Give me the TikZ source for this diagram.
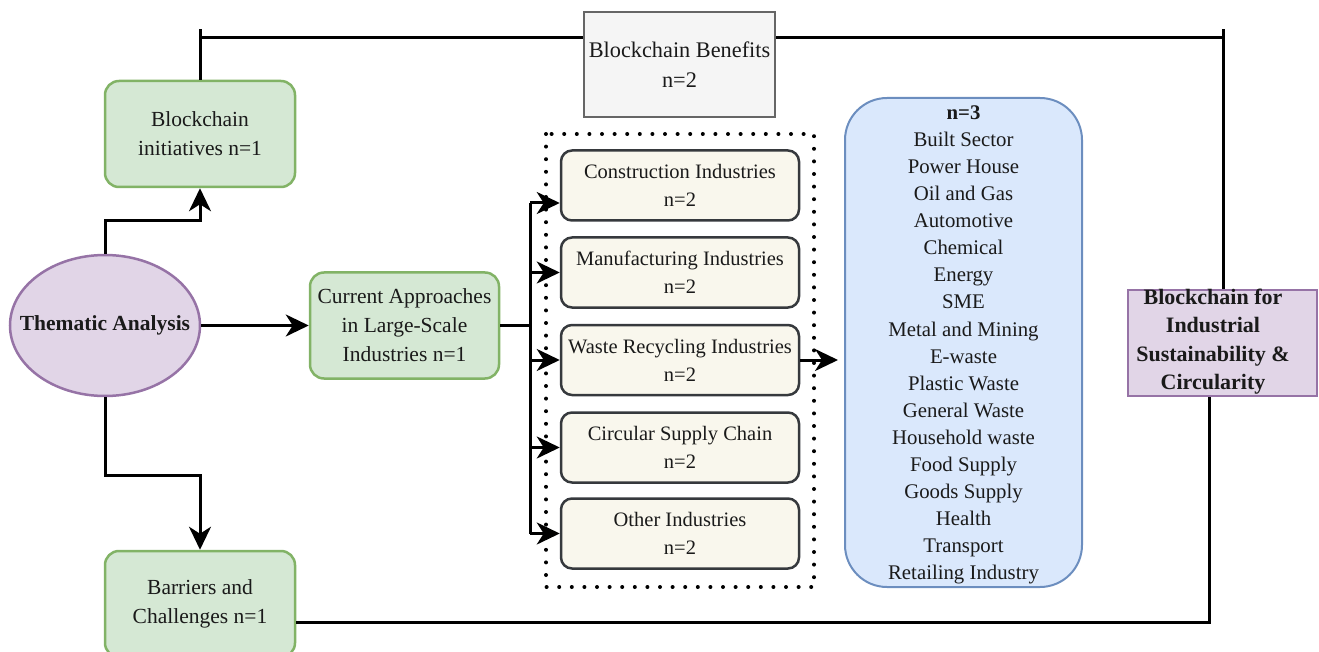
\documentclass[tikz,border=0pt]{standalone}
\usepackage{fontspec}
\setmainfont{Liberation Serif}
\usetikzlibrary{arrows.meta,shapes.geometric,calc}

\definecolor{txt}{HTML}{1A1A1A}
\definecolor{greenfill}{HTML}{D5E8D4}
\definecolor{greenline}{HTML}{82B366}
\definecolor{purplefill}{HTML}{E1D5E7}
\definecolor{purpleline}{HTML}{9673A6}
\definecolor{bluefill}{HTML}{DAE8FC}
\definecolor{blueline}{HTML}{6C8EBF}
\definecolor{cremefill}{HTML}{F9F7ED}
\definecolor{cremeline}{HTML}{36393D}
\definecolor{greyfill}{HTML}{F5F5F5}
\definecolor{greyline}{HTML}{666666}

\tikzset{
  every node/.style={text=txt, align=center, inner sep=0pt,
    font=\fontsize{21.5}{29}\selectfont},
  greenbox/.style={draw=greenline, fill=greenfill, line width=2.5pt,
    rounded corners=14pt, minimum width=190pt, minimum height=106pt},
  indbox/.style={draw=cremeline, fill=cremefill, line width=2.5pt,
    rounded corners=11pt, minimum width=238pt, minimum height=70pt,
    font=\fontsize{20.5}{28}\selectfont},
  listbox/.style={draw=blueline, fill=bluefill, line width=2pt,
    rounded corners=42pt, minimum width=237pt, minimum height=489pt},
  benefitbox/.style={draw=greyline, fill=greyfill, line width=2.5pt,
    minimum width=191pt, minimum height=105pt,
    font=\fontsize{22.3}{30}\selectfont},
  goalbox/.style={draw=purpleline, fill=purplefill, line width=2.5pt,
    minimum width=189pt, minimum height=106pt},
  themebox/.style={ellipse, draw=purpleline, fill=purplefill, line width=2.5pt,
    minimum width=190pt, minimum height=141pt},
  conn/.style={draw=black, line width=3pt},
  arrow/.style={conn, -{Stealth[length=23pt,width=22pt,inset=7pt]}},
  groupframe/.style={draw=black, line width=4pt, line cap=round,
    dash pattern=on 0pt off 12.6pt}
}

\begin{document}
\begin{tikzpicture}[x=1pt,y=-1pt]
\useasboundingbox (0,0) rectangle (1319,652);

% nodes
\node[themebox] (ta) at (105,325.5) {};
\node[font=\fontsize{21.5}{29}\selectfont\bfseries] (tat) at (ta) {Thematic Analysis};
\node[greenbox] (bi) at (200,134) {Blockchain\\initiatives n=1};
\node[greenbox] (bc) at (200,604) {Barriers and\\Challenges n=1};
\node[greenbox, minimum width=189pt] (ca) at (404.5,325.5)
  {Current Approaches\\in Large-Scale\\Industries n=1};

% grouped industry boxes
\draw[groupframe] (546,134) rectangle (814,587);
\node[indbox] (con) at (680,185.5) {Construction Industries\\n=2};
\node[indbox] (man) at (680,272.5) {Manufacturing Industries\\n=2};
\node[indbox] (was) at (680,360) {Waste Recycling Industries\\n=2};
\node[indbox] (cir) at (680,447.5) {Circular Supply Chain\\n=2};
\node[indbox] (oth) at (680,533.5) {Other Industries\\n=2};

\node[listbox] (lst) at (963.5,342.5) {};
\node[font=\fontsize{20.8}{27.1}\selectfont] (lstt) at (963.5,345)
  {\bfseries n=3\\Built Sector\\Power House\\Oil and Gas\\Automotive\\Chemical\\Energy\\SME\\Metal and Mining\\E-waste\\Plastic Waste\\General Waste\\Household waste\\Food Supply\\Goods Supply\\Health\\Transport\\Retailing Industry};

\node[goalbox] (bsc) at (1222.5,343) {};
\node[font=\fontsize{22}{28.3}\selectfont\bfseries] (bsct) at (1213,341.5)
  {Blockchain for\\Industrial\\Sustainability \&\\Circularity};

% top feedback line through the benefits box
\coordinate (tl) at (200,38);
\coordinate (tr) at (1223,38);
\draw[conn] (bi.north) -- ++(0,-51);
\draw[conn] (tl) -- (tr);
\draw[conn] (bsc.north -| tr) -- ++(0,-260);
\node[benefitbox] (bb) at (679.5,64.5) {Blockchain Benefits\\n=2};

% bottom line from barriers to the goal
\coordinate (br) at (1209,622);
\draw[conn] (bc.east |- br) -- (br) -- (br |- bsc.south);

% arrows from the thematic analysis
\draw[arrow] (ta.north) -- ++(0,-33) -| (bi.south);
\draw[arrow] (ta.south) -- ++(0,78) -| (bc.north);
\draw[arrow] (ta.east) -- (ca.west);

% bus to the industry boxes
\coordinate (bus) at (530,325);
\coordinate (c1) at ($(con.west)+(0,17.5)$);
\draw[conn] (ca.east |- bus) -- (bus);
\draw[conn] (bus |- c1) -- (bus |- oth.west);
\draw[arrow] (bus |- c1) -- (c1);
\draw[arrow] (bus |- man.west) -- (man.west);
\draw[arrow] (bus |- was.west) -- (was.west);
\draw[arrow] (bus |- cir.west) -- (cir.west);
\draw[arrow] (bus |- oth.west) -- (oth.west);

% waste recycling to the list of sectors
\draw[arrow, shorten >=6pt] (was.east) -- (was.east -| lst.west);
\end{tikzpicture}
\end{document}
